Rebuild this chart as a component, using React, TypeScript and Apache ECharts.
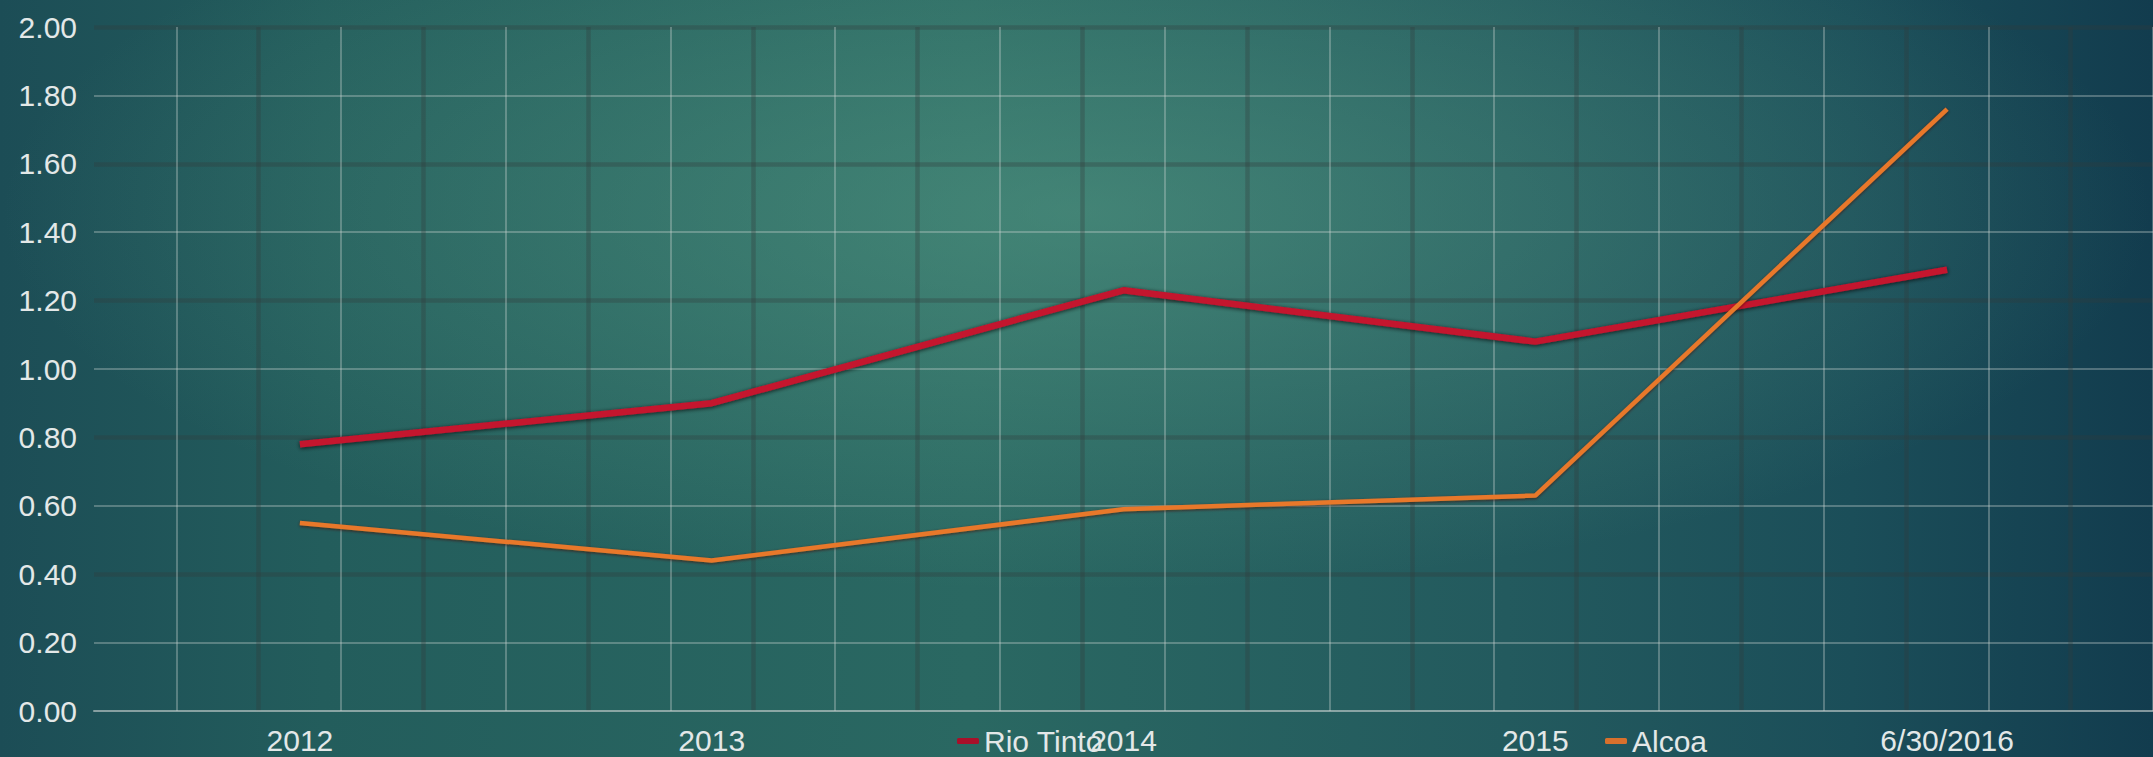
import React, { useEffect, useRef } from "react";
import * as echarts from "echarts";

const categories = ["2012", "2013", "2014", "2015", "6/30/2016"];
const rioTinto = [0.78, 0.9, 1.23, 1.08, 1.29];
const alcoa = [0.55, 0.44, 0.59, 0.63, 1.76];
const yMin = 0;
const yMax = 2;
const yStep = 0.2;
const minorColumns = 25;

const LIGHT = "rgba(205,212,210,0.45)";
const DARK = "rgba(50,58,58,0.32)";
const NONE = "rgba(0,0,0,0)";
const TEXT = "#e3e8e8";
const FONT = "Liberation Sans";

function colorCycle(count: number, pick: (i: number) => string) {
  const out: string[] = [];
  for (let i = 0; i < count; i++) out.push(pick(i));
  return out;
}

export default function App() {
  const ref = useRef<HTMLDivElement>(null);
  useEffect(() => {
    const chart = echarts.init(ref.current!, null, { renderer: "svg" });
    const yCount = Math.round((yMax - yMin) / yStep) + 1;
    const option: any = {
      animation: false,
      backgroundColor: {
        type: "linear",
        x: 0,
        y: 0,
        x2: 1,
        y2: 0,
        colorStops: [
          { offset: 0, color: "#1c4d56" },
          { offset: 0.15, color: "#235d5c" },
          { offset: 0.45, color: "#2a6862" },
          { offset: 0.7, color: "#235a5e" },
          { offset: 0.86, color: "#1b4e59" },
          { offset: 1, color: "#123c4e" },
        ],
      },
      graphic: [
        {
          type: "rect",
          z: -1,
          silent: true,
          shape: { x: 0, y: 0, width: 2153, height: 757 },
          style: {
            fill: {
              type: "radial",
              x: 0.5,
              y: 0.28,
              r: 0.5,
              colorStops: [
                { offset: 0, color: "rgba(95,165,140,0.48)" },
                { offset: 1, color: "rgba(95,165,140,0)" },
              ],
            },
          },
        },
      ],
      grid: { left: 94, top: 27, width: 2080, height: 684, containLabel: false },
      legend: [
        {
          data: ["Rio Tinto"],
          left: 957,
          top: 726,
          padding: 0,
          icon: "roundRect",
          itemWidth: 22,
          itemHeight: 6,
          itemGap: 10,
          textStyle: { color: TEXT, fontSize: 30, fontFamily: FONT },
        },
        {
          data: ["Alcoa"],
          left: 1605,
          top: 726,
          padding: 0,
          icon: "roundRect",
          itemWidth: 22,
          itemHeight: 6,
          textStyle: { color: TEXT, fontSize: 30, fontFamily: FONT },
        },
      ],
      xAxis: [
        {
          type: "category",
          data: categories,
          boundaryGap: true,
          position: "bottom",
          axisLine: { show: true, lineStyle: { color: "rgba(205,212,210,0.6)", width: 2 } },
          axisTick: { show: false },
          splitLine: { show: false },
          axisLabel: {
            color: TEXT,
            fontSize: 30,
            fontFamily: FONT,
            margin: 14,
            interval: 0,
          },
        },
        {
          type: "value",
          min: 0,
          max: minorColumns,
          interval: 1,
          position: "top",
          axisLine: { show: false },
          axisTick: { show: false },
          axisLabel: { show: false },
          splitLine: {
            show: true,
            lineStyle: {
              width: 1.5,
              color: colorCycle(minorColumns + 1, (i) => (i % 2 === 1 ? LIGHT : NONE)),
            },
          },
        },
        {
          type: "value",
          min: 0,
          max: minorColumns,
          interval: 1,
          position: "top",
          axisLine: { show: false },
          axisTick: { show: false },
          axisLabel: { show: false },
          splitLine: {
            show: true,
            lineStyle: {
              width: 4.5,
              color: colorCycle(minorColumns + 1, (i) => (i % 2 === 0 && i > 0 ? DARK : NONE)),
            },
          },
        },
      ],
      yAxis: [
        {
          type: "value",
          min: yMin,
          max: yMax,
          interval: yStep,
          position: "left",
          axisLine: { show: false },
          axisTick: { show: false },
          axisLabel: {
            color: TEXT,
            fontSize: 30,
            fontFamily: FONT,
            margin: 17,
            formatter: (v: number) => v.toFixed(2),
          },
          splitLine: {
            show: true,
            lineStyle: {
              width: 1.5,
              color: colorCycle(yCount, (i) => (i % 2 === 1 ? LIGHT : NONE)),
            },
          },
        },
        {
          type: "value",
          min: yMin,
          max: yMax,
          interval: yStep,
          position: "right",
          axisLine: { show: false },
          axisTick: { show: false },
          axisLabel: { show: false },
          splitLine: {
            show: true,
            lineStyle: {
              width: 4.5,
              color: colorCycle(yCount, (i) => (i % 2 === 0 && i > 0 ? DARK : NONE)),
            },
          },
        },
      ],
      series: [
        {
          name: "Rio Tinto",
          type: "line",
          xAxisIndex: 0,
          yAxisIndex: 0,
          data: rioTinto,
          showSymbol: false,
          symbol: "none",
          color: "#b8122c",
          lineStyle: {
            color: "#c4132e",
            width: 6.5,
            shadowColor: "rgba(20,0,0,0.75)",
            shadowBlur: 4,
            shadowOffsetY: 1,
          },
          itemStyle: { color: "#a8102a" },
          z: 3,
        },
        {
          name: "Alcoa",
          type: "line",
          xAxisIndex: 0,
          yAxisIndex: 0,
          data: alcoa,
          showSymbol: false,
          symbol: "none",
          color: "#d8702c",
          lineStyle: {
            color: "#e8782c",
            width: 4.5,
            shadowColor: "rgba(70,20,0,0.7)",
            shadowBlur: 3,
            shadowOffsetY: 1,
          },
          itemStyle: { color: "#d8702c" },
          z: 4,
        },
      ],
    };
    chart.setOption(option);
    return () => chart.dispose();
  }, []);
  return (
    <div
      ref={ref}
      style={{ position: "fixed", left: 0, top: 0, width: 2153, height: 757 }}
    />
  );
}
